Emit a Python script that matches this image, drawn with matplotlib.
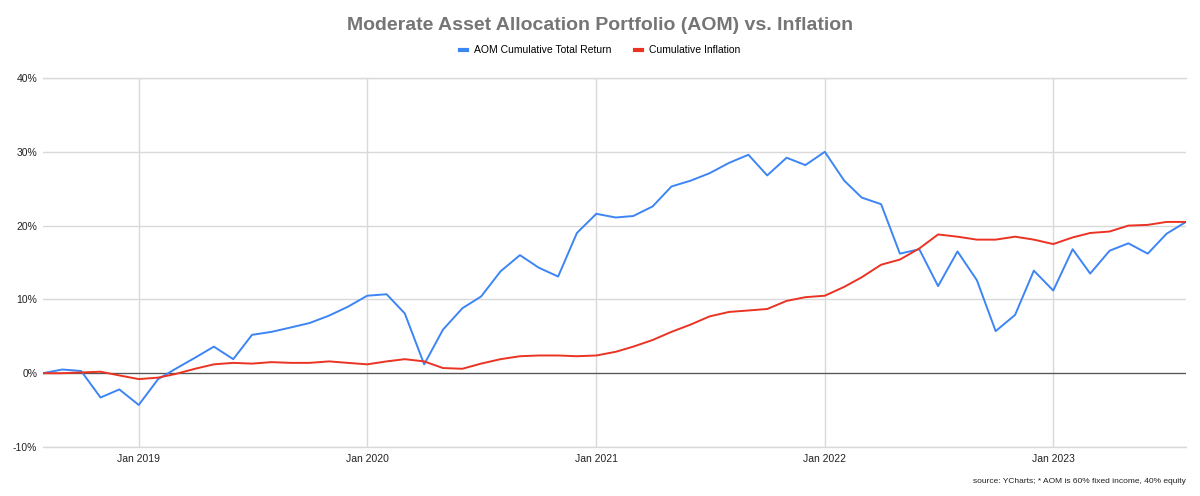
import pandas as pd
import matplotlib.pyplot as plt
import matplotlib.dates as mdates
from matplotlib.ticker import FuncFormatter

plt.rcParams['font.family'] = ['Liberation Sans', 'DejaVu Sans']

# monthly, Aug 2018 .. Aug 2023
months = pd.date_range('2018-08-01', '2023-08-01', freq='MS')

aom_return = [
    0.0, 0.5, 0.3, -3.3, -2.2,
    -4.3, -0.8, 0.6, 2.1, 3.6, 1.9, 5.2, 5.6, 6.2, 6.8, 7.8, 9.0,
    10.5, 10.7, 8.1, 1.2, 5.9, 8.8, 10.4, 13.8, 16.0, 14.3, 13.1, 19.0,
    21.6, 21.1, 21.3, 22.6, 25.3, 26.1, 27.1, 28.5, 29.6, 26.8, 29.2, 28.2,
    30.0, 26.1, 23.8, 22.9, 16.2, 16.8, 11.8, 16.5, 12.6, 5.7, 7.9, 13.9,
    11.2, 16.8, 13.5, 16.6, 17.6, 16.2, 18.9, 20.5,
]
inflation = [
    0.0, 0.0, 0.1, 0.2, -0.3,
    -0.8, -0.6, -0.1, 0.6, 1.2, 1.4, 1.3, 1.5, 1.4, 1.4, 1.6, 1.4,
    1.2, 1.6, 1.9, 1.6, 0.7, 0.6, 1.3, 1.9, 2.3, 2.4, 2.4, 2.3,
    2.4, 2.9, 3.6, 4.5, 5.6, 6.6, 7.7, 8.3, 8.5, 8.7, 9.8, 10.3,
    10.5, 11.7, 13.0, 14.7, 15.4, 16.9, 18.8, 18.5, 18.1, 18.1, 18.5, 18.1,
    17.5, 18.4, 19.0, 19.2, 20.0, 20.1, 20.5, 20.5,
]

fig = plt.figure(figsize=(12, 4.96), dpi=100)
ax = fig.add_axes([0.0358, 0.0988, 0.9525, 0.7439])

ax.plot(months, aom_return, color='#3d85f5', lw=1.4, label='AOM Cumulative Total Return', zorder=3)
ax.plot(months, inflation, color='#ea3323', lw=1.4, label='Cumulative Inflation', zorder=3)

ax.set_xlim(months[0], months[-1])
ax.set_ylim(-10, 40)
ax.set_yticks([-10, 0, 10, 20, 30, 40])
ax.yaxis.set_major_formatter(FuncFormatter(lambda v, p: '{:.0f}%'.format(v)))
ax.xaxis.set_major_locator(mdates.YearLocator(month=1))
ax.xaxis.set_major_formatter(mdates.DateFormatter('Jan %Y'))

ax.grid(True, color='#d9d9d9', lw=1, zorder=0)
# edge gridlines so they are not clipped
ax.axhline(-10, color='#d9d9d9', lw=1, zorder=0, clip_on=False)
ax.axhline(40, color='#d9d9d9', lw=1, zorder=0, clip_on=False)
ax.axhline(0, color='#555555', lw=0.9, zorder=2)
for s in ax.spines.values():
    s.set_visible(False)
ax.tick_params(length=0, labelsize=7.5, colors='#222222', pad=5)
ax.tick_params(axis='y', pad=4)

fig.suptitle('Moderate Asset Allocation Portfolio (AOM) vs. Inflation',
             y=0.966, fontsize=14, fontweight='bold', color='#757575')
fig.legend(loc='center', bbox_to_anchor=(0.5, 0.899), ncol=2, frameon=False,
           fontsize=7.5, handlelength=0.7, handletextpad=0.7, columnspacing=2.2,
           handleheight=0.5)
for h in fig.legends[0].get_lines():
    h.set_linewidth(3)
fig.text(0.988, 0.03, 'source: YCharts; * AOM is 60% fixed income, 40% equity',
         ha='right', va='center', fontsize=6, color='#222222')

fig.savefig('out.png', dpi=100)
